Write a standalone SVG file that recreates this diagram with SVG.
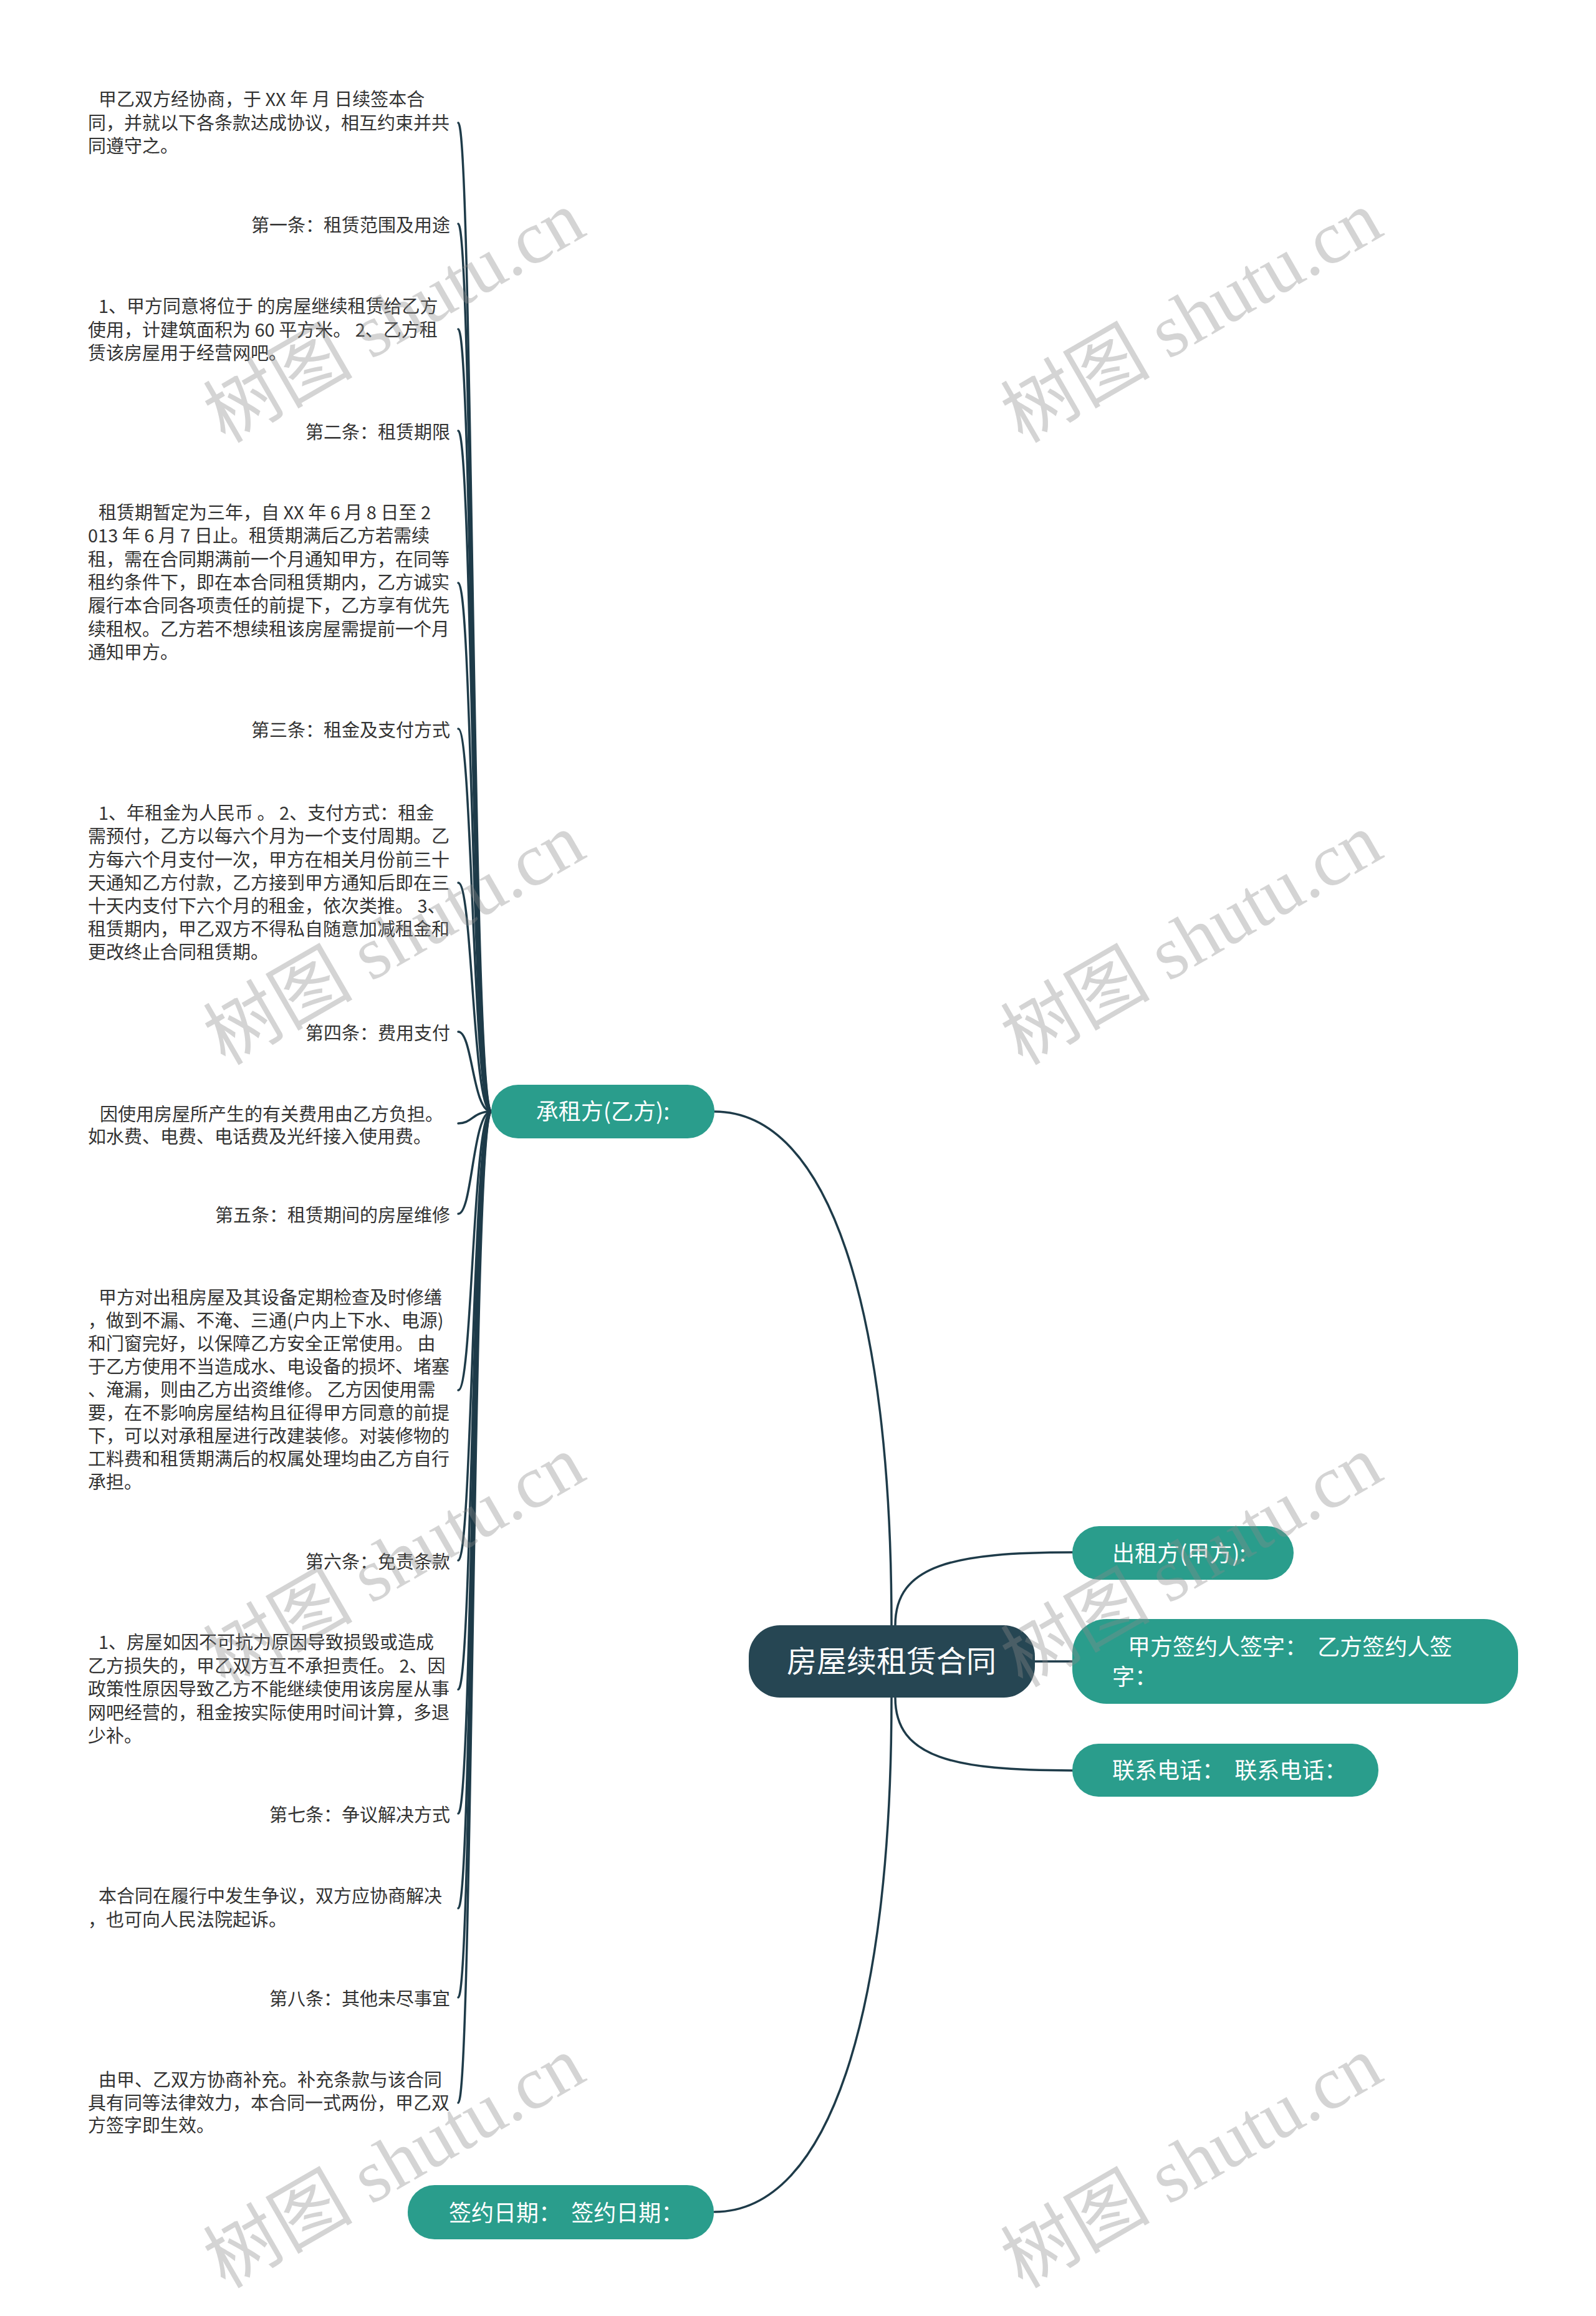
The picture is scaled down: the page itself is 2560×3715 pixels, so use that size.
<svg xmlns="http://www.w3.org/2000/svg" width="2560" height="3715" viewBox="0 0 2560 3715">
<style>
.edge{fill:none;stroke:#1e3b49;stroke-width:3.5;stroke-linecap:round}
.leaf{font-family:"Noto Sans CJK SC","Noto Sans",sans-serif;font-size:29px;fill:#333333}
.end{text-anchor:end}
.br{fill:#2a9d8c}
.brt{font-family:"Noto Sans CJK SC","Noto Sans",sans-serif;font-size:36px;fill:#ffffff}
.root{fill:#264653}
.roott{font-family:"Noto Sans CJK SC","Noto Sans",sans-serif;font-size:48px;fill:#ffffff;text-anchor:middle}
.wm{font-family:"Liberation Serif","Noto Sans CJK SC",serif;font-size:120px;fill:#8a8a8a;opacity:0.36}
</style>
<rect width="2560" height="3715" fill="#ffffff"/>
<g id="connectors">
<path class="edge" d="M1146,1783 C1330,1783 1430,2100 1430,2607"/>
<path class="edge" d="M1146,3548 C1330,3548 1430,3230 1430,2723"/>
<path class="edge" d="M1436,2607 C1436,2510 1530,2490 1720,2490"/>
<path class="edge" d="M1660,2665 L1720,2665"/>
<path class="edge" d="M1436,2723 C1436,2820 1530,2840 1720,2840"/>
<path class="edge" d="M788,1783 C758,1783 758,197 735,197"/>
<path class="edge" d="M788,1783 C758,1783 758,359 735,359"/>
<path class="edge" d="M788,1783 C758,1783 758,528 735,528"/>
<path class="edge" d="M788,1783 C758,1783 758,691 735,691"/>
<path class="edge" d="M788,1783 C758,1783 758,935 735,935"/>
<path class="edge" d="M788,1783 C758,1783 758,1169 735,1169"/>
<path class="edge" d="M788,1783 C758,1783 758,1416 735,1416"/>
<path class="edge" d="M788,1783 C758,1783 758,1655 735,1655"/>
<path class="edge" d="M788,1783 C758,1783 758,1802 735,1802"/>
<path class="edge" d="M788,1783 C758,1783 758,1947 735,1947"/>
<path class="edge" d="M788,1783 C758,1783 758,2230 735,2230"/>
<path class="edge" d="M788,1783 C758,1783 758,2503 735,2503"/>
<path class="edge" d="M788,1783 C758,1783 758,2710 735,2710"/>
<path class="edge" d="M788,1783 C758,1783 758,2909 735,2909"/>
<path class="edge" d="M788,1783 C758,1783 758,3061 735,3061"/>
<path class="edge" d="M788,1783 C758,1783 758,3204 735,3204"/>
<path class="edge" d="M788,1783 C758,1783 758,3373 735,3373"/>
</g>
<g id="root">
<rect class="root" x="1201" y="2607" width="459" height="116" rx="50"/>
<text class="roott" x="1430" y="2682">房屋续租赁合同</text>
</g>
<g id="n-chengzufang">
<rect class="br" x="788" y="1740" width="358" height="86" rx="43"/>
<text class="brt" x="967" y="1796" text-anchor="middle">承租方(乙方):</text>
</g>
<g id="n-qianyueriqi">
<rect class="br" x="654" y="3505" width="491" height="87" rx="43"/>
<text class="brt" x="720" y="3563" xml:space="preserve">签约日期：  签约日期：</text>
</g>
<g id="n-chuzufang">
<rect class="br" x="1720" y="2448" width="355" height="86" rx="43"/>
<text class="brt" x="1784" y="2505">出租方(甲方):</text>
</g>
<g id="n-qianzi">
<rect class="br" x="1720" y="2597" width="715" height="136" rx="55"/>
<text class="brt"><tspan x="1809" y="2655" xml:space="preserve">甲方签约人签字：  乙方签约人签</tspan><tspan x="1784" y="2703">字：</tspan></text>
</g>
<g id="n-lianxi">
<rect class="br" x="1720" y="2797" width="491" height="85" rx="42"/>
<text class="brt" x="1784" y="2853" xml:space="preserve">联系电话：  联系电话：</text>
</g>
<g id="leaf-01"><text class="leaf"><tspan x="158" y="170">甲乙双方经协商，于 XX 年 月 日续签本合</tspan><tspan x="141" y="208">同，并就以下各条款达成协议，相互约束并共</tspan><tspan x="141" y="245">同遵守之。</tspan></text></g>
<g id="leaf-02"><text class="leaf end" x="722" y="372">第一条：租赁范围及用途</text></g>
<g id="leaf-03"><text class="leaf"><tspan x="158" y="502">1、甲方同意将位于 的房屋继续租赁给乙方</tspan><tspan x="141" y="540">使用，计建筑面积为 60 平方米。 2、乙方租</tspan><tspan x="141" y="577">赁该房屋用于经营网吧。</tspan></text></g>
<g id="leaf-04"><text class="leaf end" x="722" y="704">第二条：租赁期限</text></g>
<g id="leaf-05"><text class="leaf"><tspan x="158" y="833">租赁期暂定为三年，自 XX 年 6 月 8 日至 2</tspan><tspan x="141" y="870">013 年 6 月 7 日止。租赁期满后乙方若需续</tspan><tspan x="141" y="908">租，需在合同期满前一个月通知甲方，在同等</tspan><tspan x="141" y="945">租约条件下，即在本合同租赁期内，乙方诚实</tspan><tspan x="141" y="982">履行本合同各项责任的前提下，乙方享有优先</tspan><tspan x="141" y="1020">续租权。乙方若不想续租该房屋需提前一个月</tspan><tspan x="141" y="1057">通知甲方。</tspan></text></g>
<g id="leaf-06"><text class="leaf end" x="722" y="1182">第三条：租金及支付方式</text></g>
<g id="leaf-07"><text class="leaf"><tspan x="158" y="1315">1、年租金为人民币 。 2、支付方式：租金</tspan><tspan x="141" y="1352">需预付，乙方以每六个月为一个支付周期。乙</tspan><tspan x="141" y="1390">方每六个月支付一次，甲方在相关月份前三十</tspan><tspan x="141" y="1427">天通知乙方付款，乙方接到甲方通知后即在三</tspan><tspan x="141" y="1464">十天内支付下六个月的租金，依次类推。 3、</tspan><tspan x="141" y="1501">租赁期内，甲乙双方不得私自随意加减租金和</tspan><tspan x="141" y="1538">更改终止合同租赁期。</tspan></text></g>
<g id="leaf-08"><text class="leaf end" x="722" y="1668">第四条：费用支付</text></g>
<g id="leaf-09"><text class="leaf"><tspan x="160" y="1798">因使用房屋所产生的有关费用由乙方负担。</tspan><tspan x="141" y="1834">如水费、电费、电话费及光纤接入使用费。</tspan></text></g>
<g id="leaf-10"><text class="leaf end" x="722" y="1960">第五条：租赁期间的房屋维修</text></g>
<g id="leaf-11"><text class="leaf"><tspan x="158" y="2092">甲方对出租房屋及其设备定期检查及时修缮</tspan><tspan x="141" y="2129">，做到不漏、不淹、三通(户内上下水、电源)</tspan><tspan x="141" y="2166">和门窗完好，以保障乙方安全正常使用。 由</tspan><tspan x="141" y="2203">于乙方使用不当造成水、电设备的损坏、堵塞</tspan><tspan x="141" y="2240">、淹漏，则由乙方出资维修。 乙方因使用需</tspan><tspan x="141" y="2277">要，在不影响房屋结构且征得甲方同意的前提</tspan><tspan x="141" y="2314">下，可以对承租屋进行改建装修。对装修物的</tspan><tspan x="141" y="2351">工料费和租赁期满后的权属处理均由乙方自行</tspan><tspan x="141" y="2388">承担。</tspan></text></g>
<g id="leaf-12"><text class="leaf end" x="722" y="2516">第六条：免责条款</text></g>
<g id="leaf-13"><text class="leaf"><tspan x="158" y="2645">1、房屋如因不可抗力原因导致损毁或造成</tspan><tspan x="141" y="2683">乙方损失的，甲乙双方互不承担责任。 2、因</tspan><tspan x="141" y="2720">政策性原因导致乙方不能继续使用该房屋从事</tspan><tspan x="141" y="2758">网吧经营的，租金按实际使用时间计算，多退</tspan><tspan x="141" y="2795">少补。</tspan></text></g>
<g id="leaf-14"><text class="leaf end" x="722" y="2922">第七条：争议解决方式</text></g>
<g id="leaf-15"><text class="leaf"><tspan x="158" y="3052">本合同在履行中发生争议，双方应协商解决</tspan><tspan x="141" y="3090">，也可向人民法院起诉。</tspan></text></g>
<g id="leaf-16"><text class="leaf end" x="722" y="3217">第八条：其他未尽事宜</text></g>
<g id="leaf-17"><text class="leaf"><tspan x="158" y="3347">由甲、乙双方协商补充。补充条款与该合同</tspan><tspan x="141" y="3384">具有同等法律效力，本合同一式两份，甲乙双</tspan><tspan x="141" y="3420">方签字即生效。</tspan></text></g>
<g id="watermarks">
<text class="wm" transform="translate(361,712) rotate(-30)">树图 shutu.cn</text>
<text class="wm" transform="translate(1640,712) rotate(-30)">树图 shutu.cn</text>
<text class="wm" transform="translate(361,1710) rotate(-30)">树图 shutu.cn</text>
<text class="wm" transform="translate(1640,1710) rotate(-30)">树图 shutu.cn</text>
<text class="wm" transform="translate(361,2708) rotate(-30)">树图 shutu.cn</text>
<text class="wm" transform="translate(1640,2708) rotate(-30)">树图 shutu.cn</text>
<text class="wm" transform="translate(361,3672) rotate(-30)">树图 shutu.cn</text>
<text class="wm" transform="translate(1640,3672) rotate(-30)">树图 shutu.cn</text>
</g>
</svg>
